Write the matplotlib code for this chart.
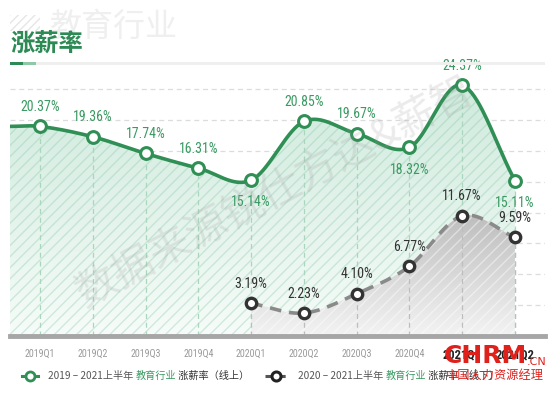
import numpy as np
import matplotlib
matplotlib.use("Agg")
import matplotlib.pyplot as plt
from matplotlib.patches import Rectangle, PathPatch
from matplotlib.path import Path
from matplotlib.lines import Line2D
from matplotlib import font_manager
from matplotlib.colors import LinearSegmentedColormap

plt.rcParams['font.family'] = ['Noto Sans CJK SC', 'DejaVu Sans']
plt.rcParams['hatch.linewidth'] = 1.0

categories = ['2019Q1', '2019Q2', '2019Q3', '2019Q4', '2020Q1',
              '2020Q2', '2020Q3', '2020Q4', '2021Q1', '2021Q2']
online = [20.37, 19.36, 17.74, 16.31, 15.14, 20.85, 19.67, 18.32, 24.37, 15.11]
offline_start = 4
offline = [3.19, 2.23, 4.10, 6.77, 11.67, 9.59]
online_below = [4, 7, 9]
yticks = [3, 6, 9, 12, 15, 18, 21, 24]

GREEN = '#2f8f55'
GREEN_TXT = '#3a9a62'
GRAY_LINE = '#8a8a8a'
DARK = '#333333'

names = {f.name for f in font_manager.fontManager.ttflist}
narrow = None
for cand in ['Liberation Sans Narrow', 'DejaVu Sans Condensed', 'Roboto Condensed']:
    if cand in names:
        narrow = cand
        break
if narrow is None:
    LABEL_FONT = dict(family=['Roboto'])
    LSIZE = 9.2
else:
    LABEL_FONT = dict(family=[narrow])
    LSIZE = 10


def smooth(x, y, n=40):
    x = np.asarray(x, float)
    y = np.asarray(y, float)
    m = np.zeros_like(y)
    for i in range(len(y)):
        if i == 0:
            m[i] = (y[1] - y[0]) / (x[1] - x[0])
        elif i == len(y) - 1:
            m[i] = (y[-1] - y[-2]) / (x[-1] - x[-2])
        else:
            m[i] = (y[i + 1] - y[i - 1]) / (x[i + 1] - x[i - 1])
    xs, ys = [], []
    for i in range(len(y) - 1):
        h = x[i + 1] - x[i]
        t = np.linspace(0, 1, n, endpoint=(i == len(y) - 2))
        h00 = 2 * t**3 - 3 * t**2 + 1
        h10 = t**3 - 2 * t**2 + t
        h01 = -2 * t**3 + 3 * t**2
        h11 = t**3 - t**2
        xs.append(x[i] + t * h)
        ys.append(h00 * y[i] + h10 * h * m[i] + h01 * y[i + 1] + h11 * h * m[i + 1])
    return np.concatenate(xs), np.concatenate(ys)


W, H = 554, 393
fig = plt.figure(figsize=(W / 100, H / 100), dpi=100)
fig.patch.set_facecolor('white')

ax_l, ax_r, ax_b, ax_t = 10, 545, 336, 73.6
ax = fig.add_axes([ax_l / W, (H - ax_b) / H, (ax_r - ax_l) / W, (ax_b - ax_t) / H])
xmin, xmax = -0.57, 9.57
ymax = 25.5
ax.set_xlim(xmin, xmax)
ax.set_ylim(0, ymax)
for s in ax.spines.values():
    s.set_visible(False)
ax.set_yticks([])

x = np.arange(len(categories))

for v in yticks:
    ax.axhline(v, color='#dcdcdc', lw=0.9, ls=(0, (4, 3)), zorder=1)

# online curve (extended flat to the left edge)
gx, gy = smooth(np.r_[xmin, x], np.r_[online[0], online])
grad = np.linspace(0, 1, 256).reshape(-1, 1)
gcmap = LinearSegmentedColormap.from_list('g', ['#f6fcf9', '#cfeadd'])
im = ax.imshow(grad, extent=[xmin, xmax, 0, 24.5], aspect='auto',
               cmap=gcmap, origin='lower', zorder=2)
verts = np.c_[np.r_[gx, gx[-1], gx[0]], np.r_[gy, 0, 0]]
poly = PathPatch(Path(verts), facecolor='none', edgecolor='none')
ax.add_patch(poly)
im.set_clip_path(poly)
ax.fill_between(gx, 0, gy, facecolor='none', edgecolor=(0.55, 0.78, 0.66, 0.35),
                hatch='///', lw=0, zorder=2.5)

ax.vlines(x, 0, online, colors='#a9d6bd', lw=0.9, linestyles=(0, (4, 3)), zorder=3)

# offline curve
ox = x[offline_start:]
sx, sy = smooth(ox, offline)
kcmap = LinearSegmentedColormap.from_list('k', ['#f3f3f3', '#bababa'])
im2 = ax.imshow(np.linspace(0, 1, 256).reshape(-1, 1), extent=[xmin, xmax, 0, 12.5],
                aspect='auto', cmap=kcmap, origin='lower', zorder=3.5)
verts2 = np.c_[np.r_[sx, sx[-1], sx[0]], np.r_[sy, 0, 0]]
poly2 = PathPatch(Path(verts2), facecolor='none', edgecolor='none')
ax.add_patch(poly2)
im2.set_clip_path(poly2)
ax.fill_between(sx, 0, sy, facecolor='none', edgecolor=(1, 1, 1, 0.45),
                hatch='///', lw=0, zorder=3.6)
ax.vlines(ox, 0, offline, colors='#bdbdbd', lw=0.9, linestyles=(0, (4, 3)), zorder=3.7)

ax.plot(gx, gy, color=GREEN, lw=2.6, zorder=5, solid_capstyle='round')
ax.plot(x, online, 'o', ms=8.5, mfc='white', mec=GREEN, mew=2.2, zorder=6)
ax.plot(sx, sy, color=GRAY_LINE, lw=2.6, ls=(0, (3.2, 2.2)), zorder=5)
ax.plot(ox, offline, 'o', ms=7.5, mfc='white', mec=DARK, mew=2.4, zorder=6)

ax.axhline(0, color='#a6a6a6', lw=3.5, zorder=7, clip_on=False)

for i, v in enumerate(online):
    below = i in online_below
    ax.annotate(f'{v:.2f}%', (x[i], v), xytext=(0, -16 if below else 14),
                textcoords='offset points', ha='center', va='center',
                fontsize=LSIZE, color=GREEN_TXT, zorder=8, **LABEL_FONT)
for xi, v in zip(ox, offline):
    ax.annotate(f'{v:.2f}%', (xi, v), xytext=(0, 14), textcoords='offset points',
                ha='center', va='center', fontsize=LSIZE, color=DARK, zorder=8,
                **LABEL_FONT)

ax.set_xticks(x)
ax.set_xticklabels(categories, fontsize=7.2, **LABEL_FONT)
ax.tick_params(axis='x', length=0, pad=9)
for i, t in enumerate(ax.get_xticklabels()):
    t.set_color('#222222' if i >= 8 else '#9a9a9a')
    if i >= 8:
        t.set_fontsize(9)
        t.set_fontweight('bold')


def fx(px):
    return px / W


def fy(py):
    return 1 - py / H


# title area
fig.patches.append(Rectangle((fx(10), fy(31)), 30 / W, 16 / H, transform=fig.transFigure,
                             facecolor='white', edgecolor='#e6e6e6', hatch='////',
                             lw=0, zorder=0))
fig.text(fx(50), fy(27), '教育行业', fontsize=23, color='#efefef', va='center',
         ha='left', zorder=1)
fig.text(fx(10), fy(44), '涨薪率', fontsize=17.5, color='#2e8a55', va='center',
         ha='left', fontweight='bold', zorder=2)
fig.patches.append(Rectangle((fx(10), fy(65)), 535 / W, 3.5 / H, transform=fig.transFigure,
                             facecolor='#efefef', lw=0))
fig.patches.append(Rectangle((fx(10), fy(65)), 13 / W, 3.5 / H, transform=fig.transFigure,
                             facecolor='#2e8a55', lw=0))
fig.patches.append(Rectangle((fx(23), fy(65)), 13 / W, 3.5 / H, transform=fig.transFigure,
                             facecolor='#8fc8a6', lw=0))

# watermark
fig.text(fx(275), fy(193), '数据来源锐仕方达&薪智', fontsize=30, color='#9a9a9a',
         alpha=0.2, rotation=28, ha='center', va='center', zorder=10)

# legend
ly = fy(376)
fig.add_artist(Line2D([fx(22), fx(38)], [ly, ly], color=GREEN, lw=2.2,
                      transform=fig.transFigure))
fig.add_artist(Line2D([fx(30)], [ly], color=GREEN, lw=0, marker='o', ms=6.5,
                      mfc='white', mec=GREEN, mew=2, transform=fig.transFigure))
fig.add_artist(Line2D([fx(265), fx(287)], [ly, ly], color='#555555', lw=2.2,
                      ls=(0, (2.2, 2.2)), transform=fig.transFigure))
fig.add_artist(Line2D([fx(276)], [ly], color='#333', lw=0, marker='o', ms=6.5,
                      mfc='white', mec='#222', mew=2.2, transform=fig.transFigure))

fig.canvas.draw()
renderer = fig.canvas.get_renderer()


def seq(x0, y, parts, size=7.3):
    cur = x0
    for txt, col in parts:
        t = fig.text(cur, y, txt, fontsize=size, color=col, va='center', ha='left')
        bb = t.get_window_extent(renderer)
        cur += bb.width / W


seq(fx(48), ly, [('2019 – 2021上半年 ', '#555555'), ('教育行业', GREEN_TXT),
                 (' 涨薪率（线上）', '#333333')])
seq(fx(298), ly, [('2020 – 2021上半年 ', '#555555'), ('教育行业', GREEN_TXT),
                  (' 涨薪率（线下）', '#333333')])

# logo
fig.text(fx(444), fy(356), 'CHRM', fontsize=18, color='#e0201b', fontweight='bold',
         ha='left', va='center', family=['DejaVu Sans'], zorder=12)
fig.text(fx(527), fy(362), '.CN', fontsize=8, color='#e0201b', ha='left', va='center',
         family=['DejaVu Sans'], zorder=12)
fig.text(fx(495), fy(375), '中国人力资源经理', fontsize=8.8, color='#e0201b',
         ha='center', va='center', zorder=12)

fig.savefig('out.png', dpi=100, facecolor='white')
